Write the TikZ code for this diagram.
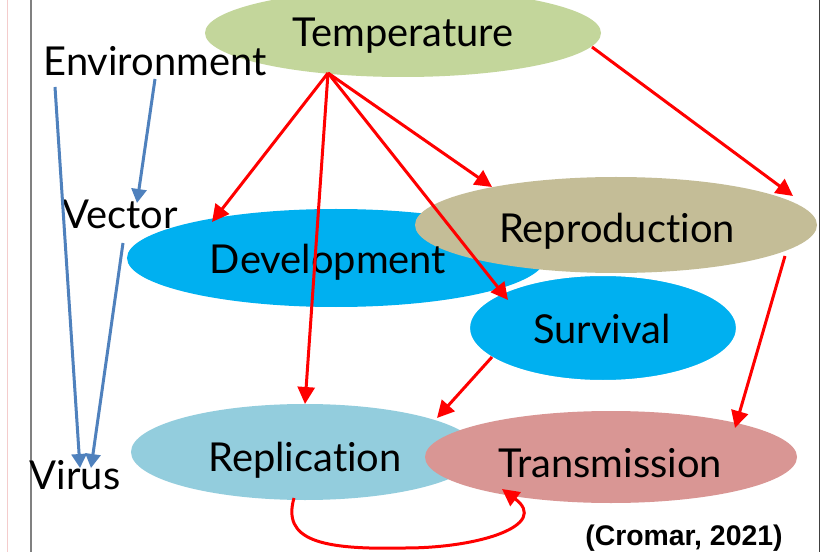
\documentclass[tikz,border=0pt]{standalone}
\usepackage{fontspec}
\setmainfont[Ligatures=NoCommon]{Lato}
\newfontfamily\citefont{Liberation Sans}
\usetikzlibrary{shapes.geometric,arrows.meta}
\definecolor{tempgreen}{HTML}{C3D69B}
\definecolor{devblue}{HTML}{00B0F0}
\definecolor{reprotan}{HTML}{C4BD97}
\definecolor{replblue}{HTML}{93CDDD}
\definecolor{transpink}{HTML}{D99694}
\definecolor{arrowred}{HTML}{FF0000}
\definecolor{arrowblue}{HTML}{4F81BD}
\definecolor{edgepink}{HTML}{F4CCCC}
\definecolor{edgegray}{HTML}{808080}
\definecolor{edgedark}{HTML}{404040}
\begin{document}
\begin{tikzpicture}[x=1bp,y=-1bp,
  blob/.style={ellipse, inner sep=0pt, outer sep=0pt, draw=none},
  lbl/.style={anchor=base, inner sep=0pt, outer sep=0pt, font=\fontsize{40}{44}\selectfont},
  redarrow/.style={draw=arrowred, line width=3bp, -{Triangle[length=17bp,width=17bp]}},
  bluearrow/.style={draw=arrowblue, line width=3bp, -{Triangle[length=14bp,width=15bp]}},
]
\useasboundingbox (0,0) rectangle (828,552);
\fill[white] (0,0) rectangle (828,552);
% frame lines
\draw[edgepink, line width=0.8bp] (7,0) -- (7,552);
\draw[edgegray, line width=1.8bp] (31,0) -- (31,552);
\draw[edgedark, line width=1bp] (819,0) -- (819,552);

% ellipses
\node[blob, fill=tempgreen, minimum width=396bp, minimum height=88bp] (temp) at (403,33) {};
\node[blob, fill=devblue, minimum width=418bp, minimum height=98bp] (dev) at (336,258) {};
\node[blob, fill=reprotan, minimum width=402bp, minimum height=96bp] (repro) at (616,225) {};
\node[blob, fill=devblue, draw=white, line width=2bp, minimum width=268bp, minimum height=106bp] (surv) at (603,328) {};
\node[blob, fill=replblue, minimum width=348bp, minimum height=96bp] (repl) at (305,452) {};
\node[blob, fill=transpink, minimum width=372bp, minimum height=92bp] (trans) at (611,457) {};

% labels
\node[lbl] (tTemp) at (403,47) {Temperature};
\node[lbl] (tDev) at (328,274) {Development};
\node[lbl] (tRepro) at (617,243) {Reproduction};
\node[lbl] (tSurv) at (602,343) {Survival};
\node[lbl] (tRepl) at (305,471) {Replication};
\node[lbl] (tTrans) at (610,477) {Transmission};
\node[lbl] (env) at (155,76) {Environment};
\node[lbl] (vec) at (120,229) {Vector};
\node[lbl] (virus) at (75,489) {Virus};
\node[anchor=base, inner sep=0pt, font=\citefont\bfseries\fontsize{28.5}{32}\selectfont] (cite) at (684,545) {(Cromar, 2021)};

% red arrows
\draw[redarrow] ([shift={(-75,40)}]temp.center) -- ([shift={(-124,-36)}]dev.center);
\draw[redarrow] ([shift={(-75,40)}]temp.center) -- ([shift={(0,-48)}]repl.center);
\draw[redarrow] ([shift={(-75,40)}]temp.center) -- ([shift={(-95,-28)}]surv.center);
\draw[redarrow] ([shift={(-75,40)}]temp.center) -- ([shift={(-124,-38)}]repro.center);
\draw[redarrow] ([shift={(189,14)}]temp.center) -- ([shift={(177,-29)}]repro.center);
\draw[redarrow] ([shift={(169,31)}]repro.center) -- ([shift={(124,-29)}]trans.center);
\draw[redarrow] ([shift={(-111,29)}]surv.center) -- ([shift={(132,-34)}]repl.center);
\draw[redarrow] ([shift={(-11,46)}]repl.center)
   .. controls (282,540) and (320,550) .. (405,548)
   .. controls (480,548) and (550,525) .. ([shift={(-109,32)}]trans.center);

% blue arrows
\draw[bluearrow] ([shift={(-100,11)}]env.base) -- ([shift={(5,-21)}]virus.base);
\draw[bluearrow] ([shift={(0,3)}]env.base) -- ([shift={(17,-26)}]vec.base);
\draw[bluearrow] ([shift={(3,14)}]vec.base) -- ([shift={(16,-21)}]virus.base);
\end{tikzpicture}
\end{document}
